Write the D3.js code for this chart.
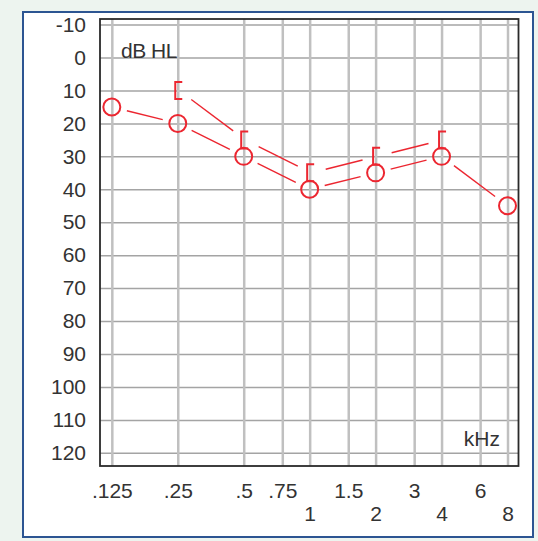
<!DOCTYPE html>
<html>
<head>
<meta charset="utf-8">
<script src="https://cdn.jsdelivr.net/npm/d3@7/dist/d3.min.js"></script>
<style>
  html, body { margin: 0; padding: 0; background: #edf4ef; }
  svg { display: block; }
  text { font-family: "Liberation Sans", Arial, sans-serif; fill: #333; }
</style>
</head>
<body>
<svg id="chart" width="538" height="541"></svg>
<script>
// ---- data ----
const airFreqs = [0.125, 0.25, 0.5, 1, 2, 4, 8];
const airValues = [15, 20, 30, 40, 35, 30, 45];
const boneFreqs = [0.25, 0.5, 1, 2, 4];
const boneValues = [10, 25, 35, 30, 25];
const gridFreqs = [0.125, 0.25, 0.5, 0.75, 1, 1.5, 2, 3, 4, 6, 8];
const xTopFreqs = [0.125, 0.25, 0.5, 0.75, 1.5, 3, 6];
const xTopLabels = [".125", ".25", ".5", ".75", "1.5", "3", "6"];
const xBottomFreqs = [1, 2, 4, 8];
const xBottomLabels = ["1", "2", "4", "8"];
const yTicks = [-10, 0, 10, 20, 30, 40, 50, 60, 70, 80, 90, 100, 110, 120];

// ---- layout ----
const svg = d3.select("#chart");
const red = "#ec2630";
const fontFam = "'Liberation Sans', Arial, sans-serif";
const plot = { left: 100, top: 19, right: 518.5, bottom: 466 };

// panel
svg.append("rect").attr("x", 23).attr("y", 12).attr("width", 510).attr("height", 525)
  .attr("fill", "#fff").attr("stroke", "#2c5592").attr("stroke-width", 2);

const x = d3.scaleLog().domain([0.1104, 8.98]).range([plot.left, plot.right]);
const y = d3.scaleLinear().domain([-11.7, 124]).range([plot.top, plot.bottom]);

// horizontal grid
svg.append("g").attr("transform", `translate(${plot.left},0)`)
  .call(d3.axisLeft(y).tickValues(yTicks).tickSize(-(plot.right - plot.left)).tickFormat(""))
  .call(g => g.select(".domain").remove())
  .call(g => g.selectAll("line").attr("stroke", "#a4a4a4").attr("stroke-width", 1.5));

// vertical grid
svg.append("g").attr("transform", `translate(0,${plot.bottom})`)
  .call(d3.axisBottom(x).tickValues(gridFreqs).tickSize(-(plot.bottom - plot.top)).tickFormat(""))
  .call(g => g.select(".domain").remove())
  .call(g => g.selectAll("line").attr("stroke", "#c0c0c0").attr("stroke-width", 2.5));

// plot border
svg.append("rect").attr("x", plot.left).attr("y", plot.top)
  .attr("width", plot.right - plot.left).attr("height", plot.bottom - plot.top)
  .attr("fill", "none").attr("stroke", "#2a2a2a").attr("stroke-width", 1.8);

// y labels
svg.append("g").attr("transform", `translate(86,0)`)
  .call(d3.axisLeft(y).tickValues(yTicks).tickSize(0).tickPadding(0).tickFormat(d => String(d)))
  .call(g => g.select(".domain").remove())
  .call(g => g.selectAll("text").attr("font-size", 21).attr("fill", "#333")
    .attr("font-family", fontFam));

// x labels two rows
const xTop = d3.axisBottom(x).tickValues(xTopFreqs).tickSize(0).tickPadding(0)
  .tickFormat((d, i) => xTopLabels[i]);
svg.append("g").attr("transform", `translate(0,483)`).call(xTop)
  .call(g => g.select(".domain").remove())
  .call(g => g.selectAll("text").attr("font-size", 21).attr("fill", "#333")
    .attr("font-family", fontFam));
const xBot = d3.axisBottom(x).tickValues(xBottomFreqs).tickSize(0).tickPadding(0)
  .tickFormat((d, i) => xBottomLabels[i]);
svg.append("g").attr("transform", `translate(0,506)`).call(xBot)
  .call(g => g.select(".domain").remove())
  .call(g => g.selectAll("text").attr("font-size", 21).attr("fill", "#333")
    .attr("font-family", fontFam));

// axis titles
svg.append("text").attr("x", 121).attr("y", 58).attr("font-size", 21)
  .attr("letter-spacing", -0.5).text("dB HL");
svg.append("text").attr("x", 500).attr("y", 446).attr("font-size", 21)
  .attr("text-anchor", "end").text("kHz");

// connecting segments with gaps
function gapSegments(fs, vs, gap) {
  const segs = [];
  for (let i = 0; i < fs.length - 1; i++) {
    const x1 = x(fs[i]), y1 = y(vs[i]), x2 = x(fs[i + 1]), y2 = y(vs[i + 1]);
    const dx = x2 - x1, dy = y2 - y1, len = Math.hypot(dx, dy);
    const ux = dx / len, uy = dy / len;
    segs.push([x1 + ux * gap, y1 + uy * gap, x2 - ux * gap, y2 - uy * gap]);
  }
  return segs;
}
const boneOffX = 1.5;
const boneSegs = gapSegments(boneFreqs, boneValues, 15);
svg.append("g").selectAll("line").data(boneSegs).join("line")
  .attr("x1", d => d[0] + boneOffX).attr("y1", d => d[1])
  .attr("x2", d => d[2] + boneOffX).attr("y2", d => d[3])
  .attr("stroke", red).attr("stroke-width", 1.4);
const airSegs = gapSegments(airFreqs, airValues, 15.5);
svg.append("g").selectAll("line").data(airSegs).join("line")
  .attr("x1", d => d[0]).attr("y1", d => d[1]).attr("x2", d => d[2]).attr("y2", d => d[3])
  .attr("stroke", red).attr("stroke-width", 1.4);

// air markers (O)
svg.append("g").selectAll("circle").data(airFreqs).join("circle")
  .attr("cx", d => x(d)).attr("cy", (d, i) => y(airValues[i])).attr("r", 8.5)
  .attr("fill", "none").attr("stroke", red).attr("stroke-width", 2);

// bone markers ([)
svg.append("g").selectAll("path").data(boneFreqs).join("path")
  .attr("transform", (d, i) => `translate(${x(d)},${y(boneValues[i])})`)
  .attr("d", "M4.5,-8.5 H-2.5 V8.5 H4.5")
  .attr("fill", "none").attr("stroke", red).attr("stroke-width", 2);
</script>
</body>
</html>
